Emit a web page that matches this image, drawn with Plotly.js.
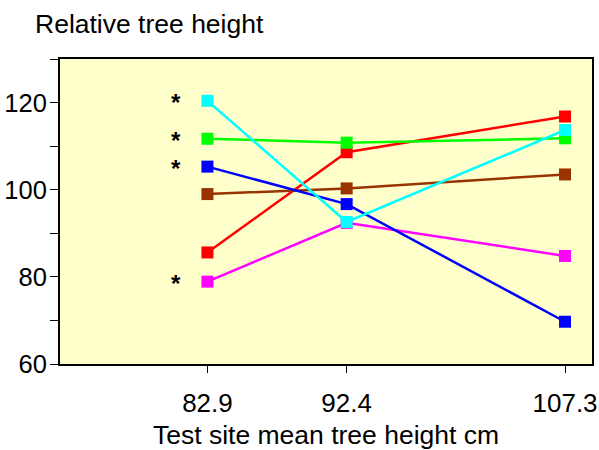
<!DOCTYPE html>
<html>
<head>
<meta charset="utf-8">
<script src="https://cdn.plot.ly/plotly-3.0.1.min.js"></script>
<style>html,body{margin:0;padding:0;background:#fff;}#chart{width:599px;height:450px;}</style>
</head>
<body>
<div id="chart"></div>
<script>
// Test site mean tree heights (cm)
const sites = [82.9, 92.4, 107.3];
const siteLabels = ["82.9", "92.4", "107.3"];

// Relative tree height per provenance
const cyanSeries    = [120.4, 92.6, 113.7];
const greenSeries   = [111.7, 110.8, 111.8];
const blueSeries    = [105.3, 96.7, 69.7];
const brownSeries   = [99.0, 100.3, 103.5];
const redSeries     = [85.6, 108.6, 116.8];
const magentaSeries = [78.9, 92.4, 84.8];

// Significance markers at the first site
const starValues = [120.4, 111.7, 105.3, 78.9];

const seriesList = [
  {y: magentaSeries, color: "#FF00FF"},
  {y: redSeries, color: "#FF0000"},
  {y: brownSeries, color: "#993300"},
  {y: blueSeries, color: "#0000FF"},
  {y: greenSeries, color: "#00FF00"},
  {y: cyanSeries, color: "#00FFFF"}
];

const traces = seriesList.map(s => ({
  type: "scatter",
  mode: "lines+markers",
  x: sites,
  y: s.y,
  line: {color: s.color, width: 2.5},
  marker: {symbol: "square", size: 12, color: s.color, line: {width: 0}},
  hoverinfo: "x+y",
  showlegend: false
}));

const fontFam = "Liberation Sans, Arial, sans-serif";

const annotations = starValues.map(v => ({
  x: sites[0], y: v, xref: "x", yref: "y",
  text: "<b>*</b>", showarrow: false,
  xshift: -31, yshift: -2,
  font: {family: fontFam, size: 24, color: "#000"}
}));

const layout = {
  width: 599, height: 450,
  paper_bgcolor: "#FFFFFF",
  plot_bgcolor: "#FFFFCC",
  margin: {l: 60, r: 7, t: 59, b: 86},
  font: {family: fontFam, size: 25, color: "#000"},
  title: {
    text: "Relative tree height",
    x: 35/599, xanchor: "left", xref: "container",
    y: 1 - 14/450, yanchor: "top", yref: "container",
    font: {family: fontFam, size: 26.5, color: "#000"}
  },
  xaxis: {
    range: [72.84, 109.14],
    tickmode: "array", tickvals: sites, ticktext: siteLabels,
    ticks: "outside", ticklen: 7, tickwidth: 1, tickcolor: "#000",
    ticklabelstandoff: 8,
    showline: true, linecolor: "#000", linewidth: 2, mirror: true,
    showgrid: false, zeroline: false,
    tickfont: {family: fontFam, size: 26, color: "#000"},
    title: {text: "Test site mean tree height cm", standoff: 12,
            font: {family: fontFam, size: 26.5, color: "#000"}}
  },
  yaxis: {
    range: [60, 130],
    tickmode: "array", tickvals: [60, 80, 100, 120],
    ticks: "outside", ticklen: 8, tickwidth: 1, tickcolor: "#000",
    ticklabelstandoff: -2,
    minor: {tickvals: [70, 90, 110, 130], ticks: "outside", ticklen: 8, tickwidth: 1, tickcolor: "#000", showgrid: false},
    showline: true, linecolor: "#000", linewidth: 2, mirror: true,
    showgrid: false, zeroline: false,
    tickfont: {family: fontFam, size: 25.5, color: "#000"}
  },
  annotations: annotations
};

Plotly.newPlot("chart", traces, layout, {displayModeBar: false, staticPlot: true});
</script>
</body>
</html>
